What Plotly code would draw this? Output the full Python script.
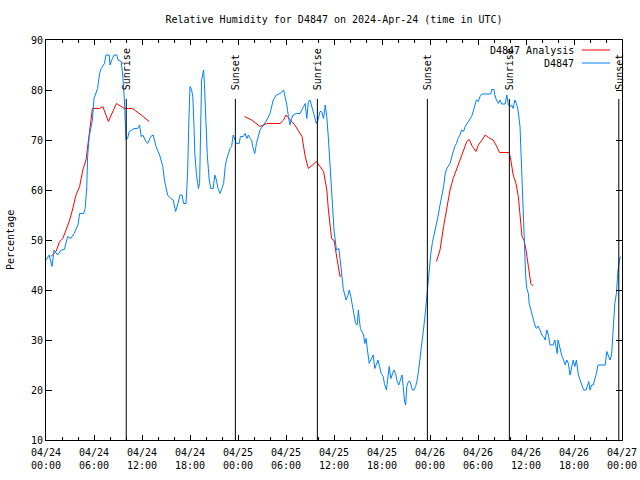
import pandas as pd
import plotly.graph_objects as go

# ---------------- data ----------------
base = pd.Timestamp("2024-04-24 00:00")

obs_hours = [0, 0.4, 0.75, 1.0, 1.45, 1.9, 2.3, 2.7, 3.1, 3.5, 4.0, 4.2, 4.7, 4.9, 5.1, 5.2, 5.4, 5.8, 6.0,
             6.45, 6.7, 6.9, 7.3, 7.5, 7.9, 8.0, 8.3, 8.5, 8.85, 9.0, 9.4, 9.6, 9.8, 9.9, 10.0, 10.2, 10.4,
             10.75, 11.0, 11.45, 11.7, 11.9, 12.1, 12.5, 12.7, 13.1, 13.4, 13.75, 14.2, 14.6, 14.8, 15.2,
             15.6, 15.9, 16.2, 16.5, 16.75, 17.0, 17.2, 17.5, 17.7, 17.85, 17.95, 18.0, 18.2, 18.35, 18.5,
             18.6, 18.8, 19.05, 19.2, 19.35, 19.45, 19.7, 19.8, 20.0, 20.15, 20.4, 20.6, 20.9, 21.1, 21.3,
             21.5, 21.75, 21.95, 22.2, 22.4, 22.6, 23.0, 23.2, 23.4, 23.6, 23.8, 24.15, 24.3, 24.65, 24.9,
             25.1, 25.3, 25.5, 25.7, 25.9, 26.1, 26.3, 26.5, 26.75, 27.2, 27.6, 28.0, 28.2, 28.4, 28.8,
             29.25, 29.7, 29.9, 30.1, 30.3, 30.5, 30.7, 30.9, 31.3, 31.75, 32.2, 32.4, 32.6, 32.8, 33.0,
             33.2, 33.4, 33.6, 33.8, 34.0, 34.25, 34.45, 34.7, 34.9, 35.1, 35.3, 35.5, 35.7, 35.9, 36.0,
             36.3, 36.6, 36.75, 36.9, 37.0, 37.15, 37.3, 37.5, 37.75, 37.9, 38.1, 38.3, 38.5, 38.7, 38.9,
             39.05, 39.15, 39.3, 39.7, 39.85, 40.0, 40.15, 40.4, 40.6, 40.8, 40.9, 41.1, 41.3, 41.5, 41.7,
             41.9, 42.15, 42.3, 42.55, 42.7, 42.9, 43.1, 43.3, 43.5, 43.7, 43.9, 44.1, 44.3, 44.5, 44.65,
             44.8, 44.95, 45.1, 45.3, 45.5, 45.8, 46.0, 46.2, 46.4, 46.6, 46.8, 47.05, 47.25, 47.45, 47.6,
             47.75, 47.9, 48.1, 48.3, 48.5, 48.8, 49.0, 49.25, 49.5, 49.7, 49.9, 50.1, 50.5, 50.7, 50.9,
             51.1, 51.3, 51.5, 51.75, 51.96, 52.2, 52.4, 52.8, 53.2, 53.4, 53.6, 53.8, 54.04, 54.25, 54.5,
             55.1, 55.6, 55.7, 56.0, 56.1, 56.3, 56.55, 56.75, 56.95, 57.4, 57.6, 57.8, 58.0, 58.2, 58.4,
             58.6, 58.8, 59.0, 59.25, 59.45, 59.6, 59.75, 59.85, 59.96, 60.1, 60.3, 60.4, 60.6, 60.75,
             60.9, 61.1, 61.3, 61.5, 61.75, 61.96, 62.2, 62.4, 62.6, 62.8, 63.0, 63.4, 63.6, 63.8, 63.9,
             64.0, 64.25, 64.5, 64.7, 64.9, 65.1, 65.3, 65.5, 65.7, 65.9, 66.1, 66.3, 66.55, 66.75, 66.95,
             67.2, 67.5, 67.7, 67.85, 68.0, 68.2, 68.4, 68.6, 68.8, 69.0, 69.9, 70.1, 70.3, 70.5, 70.7,
             70.85, 71.0, 71.1, 71.3, 71.4, 71.5, 71.7, 71.8]
obs_values = [46, 47, 44.7, 48, 47, 48, 48.1, 50.7, 50.3, 51.3, 53, 55.3, 55.3, 56.3, 60.7, 66.7, 70.7, 74, 78.3,
              80.3, 83.3, 84.3, 85.3, 87, 87, 85, 86.3, 87, 87, 86, 85.7, 82.7, 78, 72.7, 70, 70.3, 71.7,
              72, 72.3, 72.3, 73, 70.7, 71, 69.7, 69.3, 70.7, 71, 68.7, 67, 64.7, 62, 59,
              58.3, 58, 55.7, 57.3, 59, 59, 57.3, 57.3, 63.3, 73.3, 79.3, 80.7, 80, 78.7, 72.7,
              67.3, 63.3, 60.3, 61.3, 76.7, 82, 84, 81.3, 73.3, 67.3, 62, 60.3, 60.3, 63, 62,
              60.3, 59.3, 60.3, 61.3, 64.7, 66.3, 68.3, 68.7, 71, 70.3, 69.3, 69.3, 70.7, 70.7, 71.3,
              70.3, 71, 70.3, 70, 68.3, 67.3, 69.3, 70.3, 72, 73, 74, 75.3, 76.7, 78, 79,
              79.3, 80, 78.7, 77, 74.7, 73, 74.3, 75, 75.3, 75.3, 76.7, 77.3, 74.3, 77.7, 78,
              76.7, 75.7, 74, 73.3, 74, 75.7, 75.7, 74.3, 77, 74.7, 70.3, 64.7, 60, 55.3, 52,
              48, 48.3, 46.3, 44.7, 42.7, 40.3, 39, 38, 39, 40, 38.7, 36.7, 35, 33.3, 33,
              36, 34.3, 32.3, 31, 29.3, 30.3, 28, 25.3, 26, 26.7, 27, 24.3, 25.3, 26, 24.7,
              23.3, 22.7, 21.3, 20, 22, 24.7, 22.3, 23.3, 24, 23.3, 21.7, 21, 22, 23, 20.7,
              18, 17, 20.7, 21.7, 21.7, 20, 20, 20.7, 22, 24.3, 26.7, 30.7, 33, 36, 38.7,
              41.3, 45, 47.3, 49.5, 51, 52.7, 54.7, 57, 59, 60.7, 63.3, 64.3, 65.3, 66.7, 67.7,
              68.7, 69.3, 70.3, 71, 72, 71.7, 72.7, 73.7, 74.7, 75.7, 77, 78, 77.7, 78.7, 79.2,
              79.2, 79.2, 80.1, 80.1, 79, 78, 77.3, 78, 77.2, 77.2, 79, 77, 76.7, 77, 76.3,
              78, 77.3, 76, 72.7, 64, 55, 50, 46, 42.7, 40.3, 39.3, 37.3, 36, 35,
              33.7, 33, 32.3, 32.8, 32, 31, 30.7, 30, 32, 31, 29, 29, 30, 28, 27.3,
              30, 28.3, 26.7, 26, 25, 26, 25.3, 23, 24.3, 26, 24.7, 26, 23, 22, 21,
              20, 20, 21, 21.7, 20, 21, 21, 22, 23.3, 25, 25, 27.7, 27, 26, 27,
              31, 34.7, 37.3, 39.3, 41.3, 44, 46, 46.7]

ana_hours = [0.6, 1.25, 1.7, 2.1, 2.5, 2.9, 3.3, 3.75, 4.2, 4.6, 5.0, 5.3, 5.6, 5.8, 6.7, 7.1, 7.8, 8.3, 8.8,
             9.8, 10.8, 11.9, 12.9, None,
             24.8, 25.7, 26.75, 27.6, 29.25, 29.7, 30.0, 30.5, 31.1, 32.0, 32.4, 32.8, 33.8, 34.7, 35.1,
             35.3, 35.7, 35.9, 36.0, 36.4, 36.75, 36.9, None,
             48.8, 49.25, 49.7, 50.1, 50.5, 50.9, 51.3, 51.75, 52.2, 52.6, 52.9, 53.3, 53.75, 54.04, 54.5,
             54.9, 55.3, 55.9, 56.25, 56.7, 57.9, 58.1, 58.4, 58.75, 59.04, 59.25, 59.5, 59.75, 60.0,
             60.3, 60.6, 60.9]
ana_values = [46.7, 47.7, 49.7, 50.3, 52, 53.7, 56, 59, 60.7, 64, 66, 70, 74, 76.3, 76.3, 76.7, 73.7, 75.7, 77.3,
              76.3, 76.3, 75, 73.7, None,
              74.7, 74, 72.7, 73.3, 73.3, 74, 75, 74, 73, 70.7, 66.7, 64.3, 65.7, 63.7, 60,
              56, 50.3, 50, 50, 46, 42.7, 43, None,
              45.7, 48, 52.7, 56, 60, 62.3, 64, 65.7, 67.7, 69.7, 70.1, 68.7, 67.7, 69, 70,
              71, 70.5, 70, 69, 67.5, 67.5, 66, 63, 61.3, 58.7, 55.3, 50.7, 50, 48,
              44.7, 41.3, 40.8]

sun_labels = ["Sunrise", "Sunset", "Sunrise", "Sunset", "Sunrise", "Sunset"]
sun_hours = [10.03, 23.67, 33.92, 47.67, 57.92, 71.6]

series_names = ["D4847 Analysis", "D4847"]
series_colors = ["#ff0000", "#0080ff"]

# ---------------- figure ----------------
def to_time(hs):
    return [None if h is None else base + pd.Timedelta(hours=h) for h in hs]

FONT = "DejaVu Sans Mono"
fig = go.Figure()
fig.add_trace(go.Scatter(x=to_time(ana_hours), y=ana_values, mode="lines",
                         line=dict(color=series_colors[0], width=1), connectgaps=False,
                         name=series_names[0], showlegend=False))
fig.add_trace(go.Scatter(x=to_time(obs_hours), y=obs_values, mode="lines",
                         line=dict(color=series_colors[1], width=1),
                         name=series_names[1], showlegend=False))

for lab, h in zip(sun_labels, sun_hours):
    t = base + pd.Timedelta(hours=h)
    fig.add_shape(type="line", x0=t, x1=t, y0=10, y1=78.2, xref="x", yref="y",
                  line=dict(color="black", width=1))
    fig.add_annotation(x=t, y=79.6, xref="x", yref="y", text=lab, textangle=-90,
                       showarrow=False, xanchor="center", yanchor="bottom",
                       font=dict(family=FONT, size=10, color="black"))

# legend drawn manually (gnuplot style, right-aligned text)
for i, (nm, col) in enumerate(zip(series_names, series_colors)):
    ypx = 50 + 13 * i
    yp = 1 - (ypx - 40) / 400
    fig.add_annotation(x=(576 - 46) / 576, y=yp, xref="paper", yref="paper", text=nm,
                       showarrow=False, xanchor="right", yanchor="middle",
                       font=dict(family=FONT, size=10, color="black"))
    fig.add_shape(type="line", xref="paper", yref="paper",
                  x0=(582 - 46) / 576, x1=(610 - 46) / 576, y0=yp, y1=yp,
                  line=dict(color=col, width=1))

fig.add_annotation(x=-36 / 576, y=0.5, xref="paper", yref="paper", text="Percentage",
                   textangle=-90, showarrow=False, xanchor="center", yanchor="middle",
                   font=dict(family=FONT, size=10, color="black"))

fig.update_layout(
    width=640, height=480,
    margin=dict(l=46, r=18, t=40, b=40, autoexpand=False),
    paper_bgcolor="white", plot_bgcolor="white",
    font=dict(family=FONT, size=10, color="black"),
    title=dict(text="Relative Humidity for D4847 on 2024-Apr-24 (time in UTC)",
               x=0.5, xref="paper", y=1 - 19 / 480, yanchor="middle",
               font=dict(family=FONT, size=10, color="black")),
    showlegend=False,
)
fig.update_xaxes(
    range=[base, base + pd.Timedelta(hours=72)],
    tickvals=[base + pd.Timedelta(hours=6 * k) for k in range(13)],
    tickformat="%m/%d<br>%H:%M",
    ticks="inside", ticklen=5, tickcolor="black", ticklabelstandoff=3,
    minor=dict(ticks="inside", ticklen=3, dtick=2 * 3600 * 1000, tickcolor="black"),
    showline=True, linecolor="black", linewidth=1, mirror="allticks",
    showgrid=False, zeroline=False, automargin=False,
)
fig.update_yaxes(
    range=[10, 90], tickvals=list(range(10, 91, 10)),
    ticks="inside", ticklen=6, tickcolor="black",
    showline=True, linecolor="black", linewidth=1, mirror="allticks",
    showgrid=False, zeroline=False, automargin=False,
)

fig.write_html("out.html", config={"displayModeBar": False},
               post_script="document.body.style.margin='0';")
